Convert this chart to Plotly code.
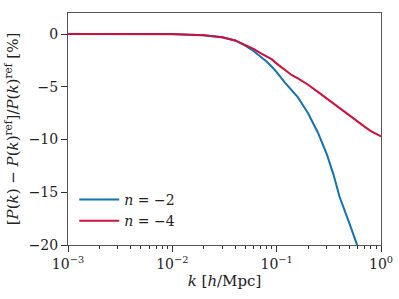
import plotly.graph_objects as go

k_blue = [0.001, 0.005, 0.01, 0.02, 0.03, 0.04, 0.05, 0.06, 0.07, 0.08, 0.09, 0.1,
          0.12, 0.14, 0.16, 0.18, 0.2, 0.25, 0.3, 0.35, 0.4, 0.5, 0.6]
d_blue = [0, 0, -0.02, -0.1, -0.3, -0.6, -1.1, -1.6, -2.1, -2.6, -3.1, -3.6,
          -4.6, -5.4, -6.0, -6.8, -7.5, -9.4, -11.3, -13.3, -15.4, -18.0, -20.2]

k_red = [0.001, 0.01, 0.02, 0.03, 0.04, 0.05, 0.06, 0.07, 0.08, 0.09, 0.1,
         0.12, 0.14, 0.16, 0.2, 0.25, 0.3, 0.4, 0.5, 0.6, 0.7, 0.8, 1.0]
d_red = [0, 0, -0.1, -0.3, -0.6, -1.0, -1.4, -1.8, -2.1, -2.4, -2.8,
         -3.4, -3.9, -4.2, -4.8, -5.5, -6.1, -7.0, -7.7, -8.3, -8.8, -9.2, -9.7]

x_tickvals = [0.001, 0.01, 0.1, 1]
x_ticktext = ["10<sup>−3</sup>", "10<sup>−2</sup>", "10<sup>−1</sup>", "10<sup>0</sup>"]
y_tickvals = [0, -5, -10, -15, -20]
y_ticktext = ["0", "−5", "−10", "−15", "−20"]

FONT = "DejaVu Serif"
BLUE = "#1172b6"
RED = "#d0103a"

fig = go.Figure()
fig.add_trace(go.Scatter(x=k_blue, y=d_blue, mode="lines", name="<i>n</i> = −2",
                         line=dict(color=BLUE, width=2)))
fig.add_trace(go.Scatter(x=k_red, y=d_red, mode="lines", name="<i>n</i> = −4",
                         line=dict(color=RED, width=2)))

axis_common = dict(showline=True, linecolor="#555555", linewidth=1, mirror=True,
                   showgrid=False, zeroline=False, ticks="outside", tickcolor="#333333",
                   automargin=False,
                   tickfont=dict(family=FONT, size=14, color="#222222"))

fig.update_layout(
    width=399, height=299,
    margin=dict(l=68, r=18, t=13, b=54),
    paper_bgcolor="white", plot_bgcolor="white",
    font=dict(family=FONT, color="#222222"),
    showlegend=True,
    legend=dict(x=0.02, y=0.035, xanchor="left", yanchor="bottom",
                bgcolor="rgba(0,0,0,0)", font=dict(family=FONT, size=14),
                itemwidth=40, tracegroupgap=0),
    xaxis=dict(type="log", range=[-3, 0], tickvals=x_tickvals, ticktext=x_ticktext,
               ticklen=6, minor=dict(ticks="outside", ticklen=3, tickcolor="#333333",
                                      dtick="D1", showgrid=False),
               title=dict(text="<i>k</i> [<i>h</i>/Mpc]", font=dict(family=FONT, size=15),
                          standoff=2),
               **axis_common),
    yaxis=dict(range=[-20, 2], tickvals=y_tickvals, ticktext=y_ticktext, ticklen=6,
               title=dict(text="[<i>P</i>(<i>k</i>) − <i>P</i>(<i>k</i>)<sup>ref</sup>]/<i>P</i>(<i>k</i>)<sup>ref</sup> [%]",
                          font=dict(family=FONT, size=15), standoff=6),
               **axis_common),
)

fig.write_html("out.html", config={"displayModeBar": False},
               post_script="document.body.style.margin='0';document.body.style.overflow='hidden';")
